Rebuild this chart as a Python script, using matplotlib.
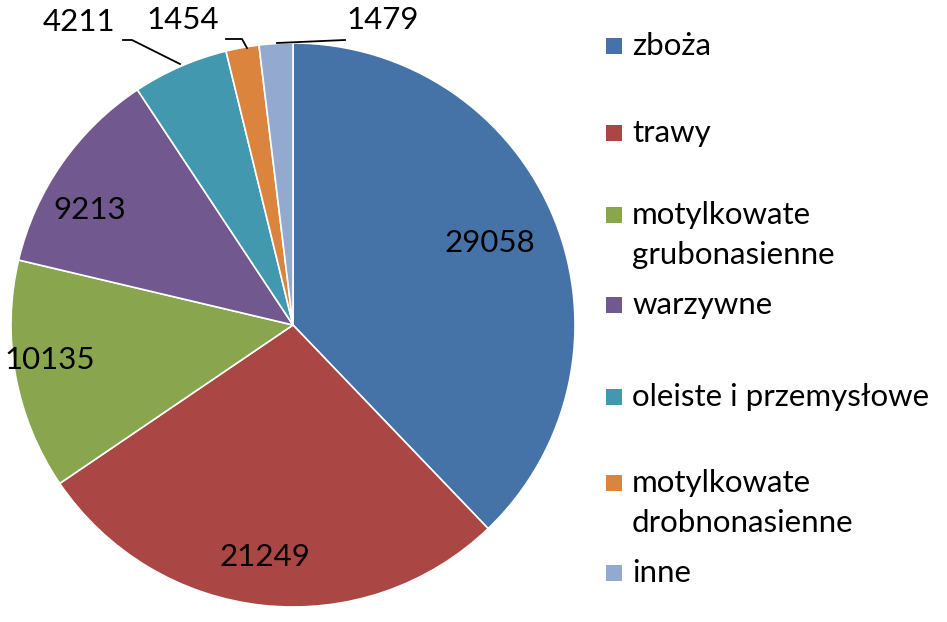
import matplotlib
matplotlib.use("Agg")
import matplotlib.pyplot as plt
from matplotlib.patches import Rectangle

categories = ["zboża", "trawy", "motylkowate\ngrubonasienne", "warzywne",
              "oleiste i przemysłowe", "motylkowate\ndrobnonasienne", "inne"]
values = [29058, 21249, 10135, 9213, 4211, 1454, 1479]
colors = ["#4572A7", "#AA4643", "#89A54E", "#71588F", "#4198AF", "#DB843D", "#93A9CF"]

W, H = 947, 622
plt.rcParams['font.family'] = ['Lato', 'DejaVu Sans']
fig = plt.figure(figsize=(W / 100, H / 100), dpi=100)
ax = fig.add_axes([0, 0, 1, 1])

def P(x, y):
    return (x, H - y)

ax.pie(values, colors=colors, startangle=90, counterclock=False,
       center=P(293, 325), radius=282,
       wedgeprops=dict(edgecolor='white', linewidth=1.2))
ax.set_xlim(0, W)
ax.set_ylim(0, H)
ax.set_aspect('equal')
ax.axis('off')

FS = 22.5
# label layout (pixel coords)
label_pos = [(490, 243), (265, 557), (50, 360), (90, 210), (79, 22), (183, 20), (383, 20)]
for v, (x, y) in zip(values, label_pos):
    ax.text(*P(x, y), str(v), ha='center', va='center', fontsize=FS, color='black')

leaders = [
    None, None, None, None,
    [(123, 40), (132, 40), (180, 64)],
    [(226, 39), (242, 39), (247, 48)],
    [(277, 43), (345, 40)],
]
for pts in leaders:
    if pts:
        xs = [p[0] for p in pts]
        ys = [H - p[1] for p in pts]
        ax.plot(xs, ys, color='black', lw=1.3)

# legend
leg_y = [46, 133, 215, 305, 397, 483, 573]
for cat, col, y in zip(categories, colors, leg_y):
    ax.add_patch(Rectangle((606, H - y - 8), 16, 16, facecolor=col, edgecolor='none'))
    lines = cat.split('\n')
    for i, line in enumerate(lines):
        ax.text(632, H - y - 40 * i, line, ha='left', va='center', fontsize=FS, color='black')

fig.savefig("out.png", dpi=100, facecolor='white')
